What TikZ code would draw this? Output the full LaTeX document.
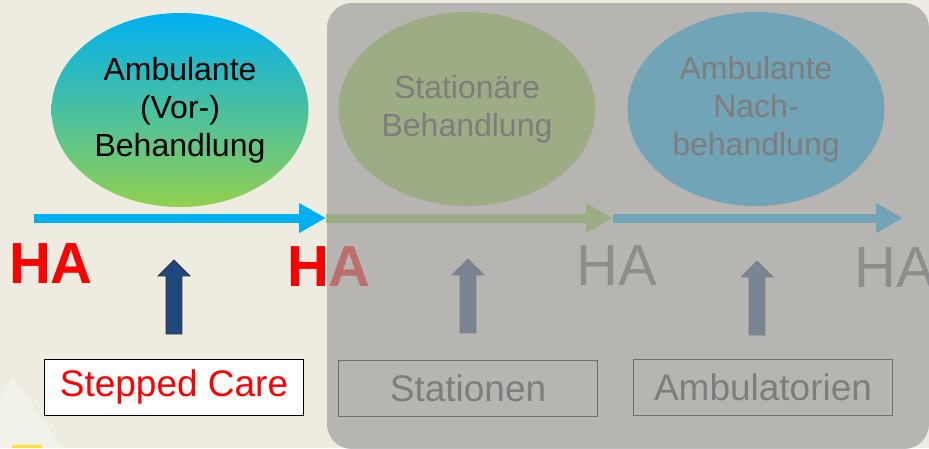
\documentclass[tikz,border=0pt]{standalone}
\usepackage{fontspec}
\setmainfont{Liberation Sans}
\usetikzlibrary{shapes.geometric,shapes.arrows,arrows.meta}
\definecolor{bgbeige}{RGB}{238,236,225}
\definecolor{lightbeige}{RGB}{243,242,234}
\definecolor{skyblue}{RGB}{0,176,240}
\definecolor{leafgreen}{RGB}{146,208,80}
\definecolor{darkblue}{RGB}{31,73,125}
\definecolor{veil}{RGB}{161,159,158}
\definecolor{dimtext}{RGB}{45,45,45}
\definecolor{hagray}{RGB}{100,100,100}
\definecolor{signyellow}{RGB}{255,225,58}

\begin{document}
\begin{tikzpicture}[x=1pt,y=-1pt,
	phase/.style={ellipse,minimum width=257pt,minimum height=194pt,inner sep=0pt,align=center,font=\fontsize{32}{38}\selectfont},
	flow/.style={line width=9pt,-{Triangle[length=27pt,width=28pt]}},
	hared/.style={anchor=base,text=red,font=\fontsize{58}{60}\selectfont\bfseries},
	hagrey/.style={anchor=base,text=hagray,font=\fontsize{58}{60}\selectfont},
	uparrow/.style={single arrow,draw=black!80,line width=0.8pt,fill=darkblue,rotate=90,minimum height=74pt,inner sep=7.5pt,single arrow head extend=8pt,single arrow head indent=0pt},
	setting/.style={draw,line width=1pt,minimum width=259pt,minimum height=56pt,inner sep=0pt,font=\fontsize{37}{40}\selectfont}]
	\useasboundingbox (0,0) rectangle (929,448);
	\fill[bgbeige] (0,0) rectangle (929,448);
	\fill[lightbeige] (0,398) -- (13,378) -- (63,448) -- (0,448) -- cycle;
	\fill[signyellow] (12,445) rectangle (42,448);

	\node[phase,top color=skyblue,bottom color=leafgreen] (pre) at (180,110) {Ambulante\\(Vor-)\\Behandlung};
	\node[phase,fill=leafgreen,text=dimtext] (stat) at (467,109) {Stationäre\\Behandlung};
	\node[phase,fill=skyblue,text=dimtext] (post) at (756,109) {Ambulante\\Nach-\\behandlung};

	\coordinate (s0) at (34,218);
	\coordinate (s1) at (326,218);
	\coordinate (s2) at (613,218);
	\coordinate (s3) at (903,218);
	\draw[flow,skyblue] (s0) -- (s1);
	\draw[flow,leafgreen] (s1) -- (s2);
	\draw[flow,skyblue] (s2) -- (s3);

	\node[hared] (ha0) at (51,283) {HA};
	\node[hared] (ha1) at (329,286) {HA};
	\node[hagrey] (ha2) at (617,285) {HA};
	\node[hagrey] (ha3) at (895,287) {HA};

	\node[uparrow] (up0) at (174,301) {};
	\node[uparrow] (up1) at (468,300) {};
	\node[uparrow] (up2) at (757,302) {};

	\node[setting,fill=white,text=red] (sc) at (174,387) {Stepped Care};
	\node[setting,text=dimtext] (wards) at (468,388) {Stationen};
	\node[setting,text=dimtext] (clinics) at (763,387) {Ambulatorien};

	\fill[veil,fill opacity=0.7,rounded corners=25pt] (327,3) rectangle (929,449);
\end{tikzpicture}
\end{document}
